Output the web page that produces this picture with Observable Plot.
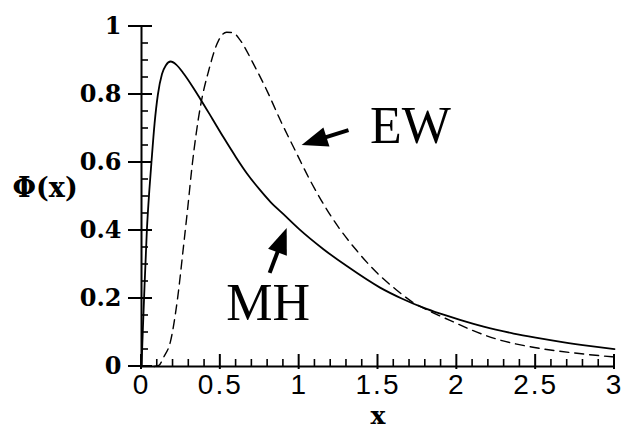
<!DOCTYPE html>
<html>
<head>
<meta charset="utf-8">
<script src="https://cdn.jsdelivr.net/npm/d3@7"></script>
<script src="https://cdn.jsdelivr.net/npm/@observablehq/plot@0.6"></script>
<style>
  html, body { margin: 0; padding: 0; background: white; }
  g[aria-label="x-axis tick label"] text { letter-spacing: 2px; }
</style>
</head>
<body>
<div id="chart"></div>
<script>
// MH curve (solid)
const mhX = [0, 0.008, 0.017, 0.034, 0.05, 0.063, 0.083, 0.104, 0.13, 0.155, 0.185, 0.22, 0.268, 0.32, 0.373, 0.45, 0.52, 0.6, 0.67, 0.75, 0.816, 0.9, 1.0, 1.154, 1.3, 1.513, 1.65, 1.787, 1.89, 2.02, 2.17, 2.36, 2.5, 2.67, 2.85, 3.0];
const mhY = [0, 0.1, 0.21, 0.4, 0.52, 0.6, 0.715, 0.8, 0.86, 0.886, 0.897, 0.888, 0.861, 0.826, 0.787, 0.728, 0.674, 0.615, 0.567, 0.52, 0.485, 0.448, 0.404, 0.345, 0.296, 0.232, 0.2, 0.173, 0.156, 0.137, 0.117, 0.097, 0.085, 0.072, 0.06, 0.051];
// EW curve (dashed)
const ewX = [0.08, 0.11, 0.14, 0.185, 0.227, 0.268, 0.294, 0.32, 0.373, 0.426, 0.49, 0.54, 0.58, 0.627, 0.71, 0.797, 0.88, 0.975, 1.07, 1.154, 1.249, 1.365, 1.49, 1.61, 1.72, 1.84, 1.96, 2.10, 2.25, 2.42, 2.57, 2.74, 2.88, 3.0];
const ewY = [0, 0.003, 0.027, 0.076, 0.194, 0.36, 0.47, 0.586, 0.763, 0.87, 0.96, 0.983, 0.982, 0.959, 0.89, 0.81, 0.725, 0.635, 0.547, 0.478, 0.41, 0.341, 0.277, 0.228, 0.189, 0.16, 0.135, 0.106, 0.081, 0.062, 0.05, 0.04, 0.033, 0.028];

// ticks
const xMajor = [0, 0.5, 1, 1.5, 2, 2.5, 3];
const xMajorLabels = ["0", "0.5", "1", "1.5", "2", "2.5", "3"];
const xMinor = [0.1,0.2,0.3,0.4,0.6,0.7,0.8,0.9,1.1,1.2,1.3,1.4,1.6,1.7,1.8,1.9,2.1,2.2,2.3,2.4,2.6,2.7,2.8,2.9];
const yMajor = [0, 0.2, 0.4, 0.6, 0.8, 1];
const yMajorLabels = ["0", "0.2", "0.4", "0.6", "0.8", "1"];
const yMinor = [0.05,0.1,0.15,0.25,0.3,0.35,0.45,0.5,0.55,0.65,0.7,0.75,0.85,0.9,0.95];

// annotations
const annLabels = ["EW", "MH"];
const annTextX = [1.449, 0.538];
const annTextY = [0.656, 0.138];
const arrowTailX = [1.316, 0.816];
const arrowTailY = [0.694, 0.274];
const arrowTipX = [1.019, 0.924];
const arrowTipY = [0.65, 0.406];

const xLabel = "x";
const yLabel = "Φ(x)";

const mh = mhX.map((x, i) => ({x, y: mhY[i]}));
const ew = ewX.map((x, i) => ({x, y: ewY[i]}));
const ann = annLabels.map((t, i) => ({t, x: annTextX[i], y: annTextY[i], x1: arrowTailX[i], y1: arrowTailY[i], x2: arrowTipX[i], y2: arrowTipY[i]}));

// axis tick marks drawn through the plot's scales (inward + outward ticks)
function tickMarks(index, scales) {
  const g = d3.create("svg:g").attr("stroke", "black");
  const x0 = scales.x(0), y0 = scales.y(0);
  for (const v of yMinor) g.append("line").attr("x1", x0).attr("x2", x0 + 7).attr("y1", scales.y(v)).attr("y2", scales.y(v)).attr("stroke-width", 1.6);
  for (const v of yMajor) g.append("line").attr("x1", x0 - 13).attr("x2", x0 + 11).attr("y1", scales.y(v)).attr("y2", scales.y(v)).attr("stroke-width", 2);
  for (const v of xMinor) g.append("line").attr("y1", y0).attr("y2", y0 - 7).attr("x1", scales.x(v)).attr("x2", scales.x(v)).attr("stroke-width", 1.6);
  for (const v of xMajor) g.append("line").attr("y1", y0 + 3).attr("y2", y0 - 12).attr("x1", scales.x(v)).attr("x2", scales.x(v)).attr("stroke-width", 2);
  return g.node();
}

function arrows(index, scales) {
  const g = d3.create("svg:g");
  for (const a of ann) {
    const sx = scales.x(a.x1), sy = scales.y(a.y1);
    const tx = scales.x(a.x2), ty = scales.y(a.y2);
    const dx = tx - sx, dy = ty - sy, L = Math.hypot(dx, dy);
    const ux = dx / L, uy = dy / L;
    const hl = 26, hw = 10;
    const bx = tx - ux * hl, by = ty - uy * hl;
    g.append("line").attr("x1", sx).attr("y1", sy).attr("x2", bx + ux * 2).attr("y2", by + uy * 2)
      .attr("stroke", "black").attr("stroke-width", 4);
    g.append("polygon")
      .attr("points", [[tx, ty], [bx - uy * hw, by + ux * hw], [bx + uy * hw, by - ux * hw]].map(p => p.join(",")).join(" "))
      .attr("fill", "black");
  }
  return g.node();
}

const chart = Plot.plot({
  width: 628,
  height: 430,
  marginLeft: 141,
  marginRight: 14,
  marginTop: 26,
  marginBottom: 64,
  x: {domain: [0, 3], label: null},
  y: {domain: [0, 1], label: null},
  style: {background: "white", color: "black", overflow: "visible"},
  marks: [
    Plot.axisY(yMajor, {tickSize: 0, tickPadding: 20, label: null,
      tickFormat: d => yMajorLabels[yMajor.indexOf(d)],
      fontFamily: "DejaVu Serif", fontWeight: "bold", fontSize: 24}),
    Plot.axisX(xMajor, {tickSize: 0, tickPadding: 8, label: null,
      tickFormat: d => xMajorLabels[xMajor.indexOf(d)],
      fontFamily: "Liberation Sans", fontSize: 28}),
    tickMarks,
    Plot.ruleX([0], {stroke: "black", strokeWidth: 2}),
    Plot.ruleY([0], {stroke: "black", strokeWidth: 2}),
    Plot.line(ew, {x: "x", y: "y", stroke: "black", strokeWidth: 1.4, strokeDasharray: "9,6", curve: "monotone-x"}),
    Plot.line(mh, {x: "x", y: "y", stroke: "black", strokeWidth: 1.8, curve: "monotone-x"}),
    Plot.text(ann, {x: "x", y: "y", text: "t", textAnchor: "start", lineAnchor: "bottom",
      fontFamily: "Liberation Serif", fontSize: 52, fill: "black"}),
    arrows,
    Plot.text([xLabel], {frameAnchor: "bottom", dy: 57, lineAnchor: "bottom",
      fontFamily: "DejaVu Serif", fontWeight: "bold", fontSize: 25, fill: "black"}),
    Plot.text([yLabel], {frameAnchor: "left", dx: -129, dy: 0, textAnchor: "start", lineAnchor: "bottom",
      fontFamily: "DejaVu Serif", fontWeight: "bold", fontSize: 27, fill: "black"})
  ]
});
document.getElementById("chart").append(chart);
</script>
</body>
</html>
